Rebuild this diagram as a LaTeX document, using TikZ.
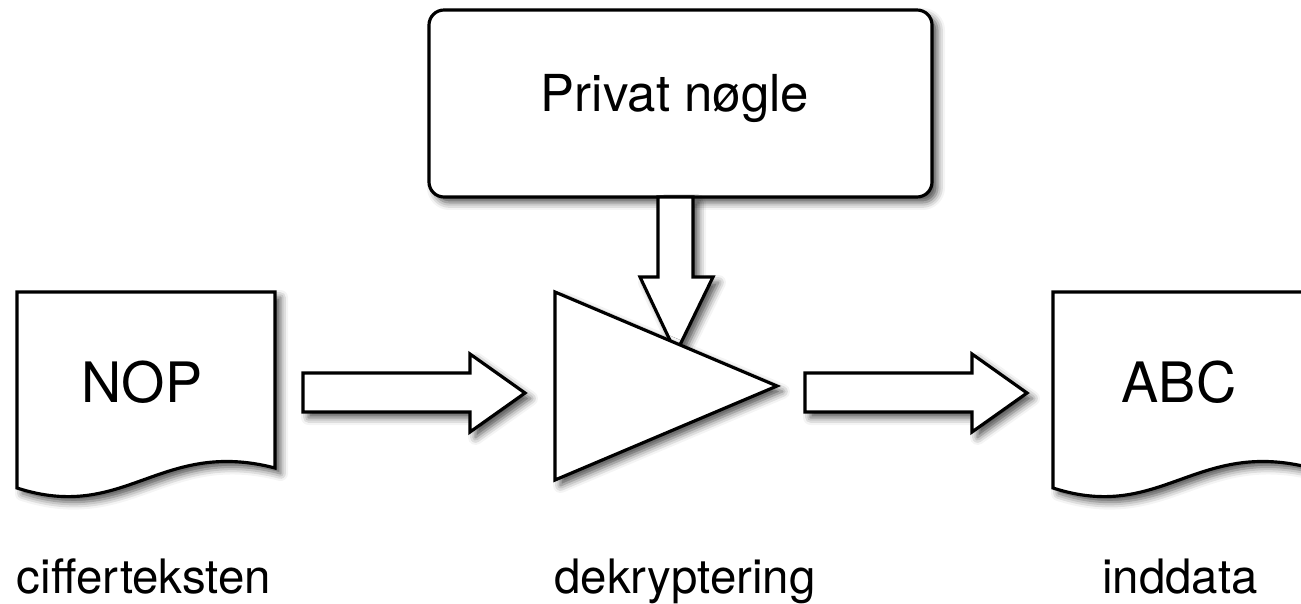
\documentclass[tikz,border=0pt]{standalone}
\usepackage{fontspec}
\setmainfont{TeX Gyre Heros}
\usetikzlibrary{shadows.blur}

\tikzset{
    outlined/.style={draw, line width=1.8pt, fill=white, line join=miter,
        blur shadow={shadow xshift=0.11cm, shadow yshift=-0.11cm,
            shadow blur radius=0.15cm, shadow opacity=70}},
    boxtext/.style={anchor=base, font=\fontsize{31.7}{36}\selectfont},
    labeltext/.style={anchor=base, font=\fontsize{27}{32}\selectfont},
}

% sheet of paper with a wavy lower edge, shifted by #1
\newcommand{\docsheet}[1]{
    \begin{scope}[xshift=#1cm]
        \draw[outlined] (0.34, 6.22) -- (5.5, 6.22) -- (5.5, 2.7)
            .. controls (3.2, 3.3) and (2.5, 1.6) .. (0.34, 2.3) -- cycle;
    \end{scope}
}
% hollow arrow pointing right: tail, head base, tip
\newcommand{\fatarrow}[3]{
    \draw[outlined] (#1, 4.6) -- (#2, 4.6) -- (#2, 4.98) -- (#3, 4.2)
        -- (#2, 3.42) -- (#2, 3.82) -- (#1, 3.82) -- cycle;
}

\begin{document}
\begin{tikzpicture}
    \clip (0, 0) rectangle (26.02, 12.06);

    % key box and the arrow down from it
    \draw[outlined, rounded corners=0.3cm] (8.58, 8.12) rectangle (18.64, 11.86);
    \node[boxtext, font=\fontsize{29}{34}\selectfont] (key) at (13.5, 9.82) {Privat nøgle};
    \draw[outlined] (13.16, 8.12) -- (13.16, 6.52) -- (12.8, 6.52) -- (13.52, 5.0)
        -- (14.26, 6.52) -- (13.86, 6.52) -- (13.86, 8.12) -- cycle;

    % decryption step
    \draw[outlined] (11.1, 6.22) -- (15.54, 4.34) -- (11.1, 2.46) -- cycle;

    % input and output sheets
    \docsheet{0}
    \docsheet{20.72}
    \node[boxtext] (nop) at (2.84, 4.02) {NOP};
    \node[boxtext] (abc) at (23.58, 4.02) {ABC};

    \fatarrow{6.06}{9.4}{10.5}
    \fatarrow{16.1}{19.44}{20.54}

    \node[labeltext] (cipher) at (2.88, 0.2) {cifferteksten};
    \node[labeltext] (decrypt) at (13.7, 0.2) {dekryptering};
    \node[labeltext] (plain) at (23.6, 0.2) {inddata};
\end{tikzpicture}
\end{document}
